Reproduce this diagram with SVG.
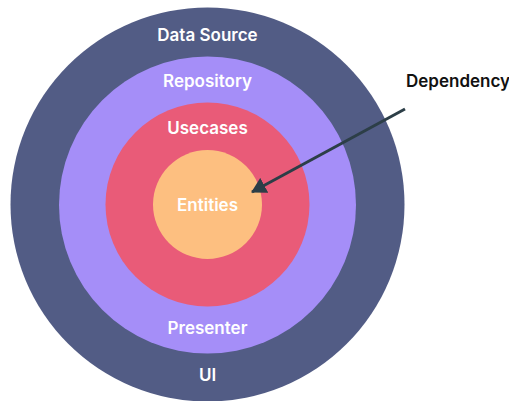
<svg xmlns="http://www.w3.org/2000/svg" width="509" height="401" viewBox="0 0 509 401">
<defs>
<style>
.lbl{font-family:Inter,"Liberation Sans",sans-serif;font-size:17px;font-weight:600;fill:#ffffff;text-anchor:middle}
.dep{font-family:Inter,"Liberation Sans",sans-serif;font-size:17px;font-weight:600;fill:#111111}
</style>
<marker id="ah" markerWidth="15" markerHeight="17" refX="14" refY="8.5" orient="auto" markerUnits="userSpaceOnUse">
<path d="M0,0 L15,8.5 L0,17 z" fill="#2c3e47"/>
</marker>
</defs>
<rect width="509" height="401" fill="#ffffff"/>
<g id="ui"><circle cx="207.5" cy="204.5" r="197" fill="#525c85"/><text class="lbl" x="207.5" y="41">Data Source</text><text class="lbl" x="207.5" y="381">UI</text></g>
<g id="repository"><circle cx="207.5" cy="205" r="148.5" fill="#a58ef8"/><text class="lbl" x="207.5" y="87">Repository</text><text class="lbl" x="207.5" y="334">Presenter</text></g>
<g id="usecases"><circle cx="207.5" cy="204.5" r="102" fill="#e95b78"/><text class="lbl" x="207.5" y="134">Usecases</text></g>
<g id="entities"><circle cx="207.5" cy="204.5" r="54.5" fill="#fdbf80"/><text class="lbl" x="207.5" y="211">Entities</text></g>
<g id="dependency"><text class="dep" x="406" y="87">Dependency</text></g>
<g id="connectors">
<line x1="405" y1="109" x2="252" y2="192" stroke="#2c3e47" stroke-width="3" marker-end="url(#ah)"/>
</g>
</svg>
